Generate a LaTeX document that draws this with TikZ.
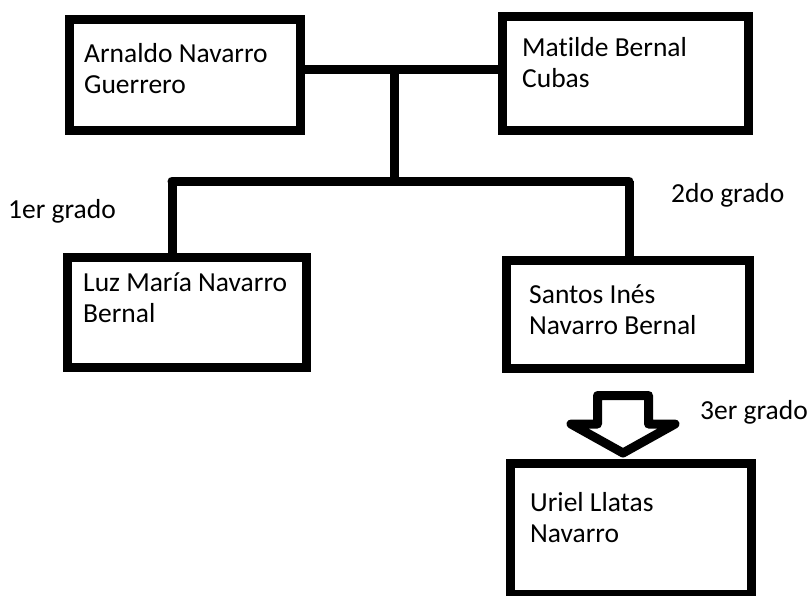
\documentclass[tikz,border=0pt]{standalone}
\usepackage{fontspec}
\setmainfont{Carlito}[Ligatures=NoCommon]
\begin{document}
\begin{tikzpicture}[x=1pt,y=-1pt,
  box/.style={draw=black,line width=9pt,rectangle,inner sep=0pt},
  txt/.style={anchor=base west,inner sep=0pt,align=left,text=black,
    font=\fontsize{27.5}{31}\selectfont},
  link/.style={draw=black,line width=9pt}]
\useasboundingbox (0,0) rectangle (809,595);
% boxes
\node[box,minimum width=231pt,minimum height=111pt] (A) at (185,75) {};
\node[box,minimum width=246pt,minimum height=114pt] (M) at (625.5,73.5) {};
\node[box,minimum width=239pt,minimum height=110pt] (L) at (187,312.5) {};
\node[box,minimum width=243pt,minimum height=108pt] (S) at (628,314.5) {};
\node[box,minimum width=241pt,minimum height=131pt] (U) at (631,529) {};
% texts (base anchor = baseline of the last line)
\node[txt] (tA) at (84,93) {Arnaldo Navarro\\Guerrero};
\node[txt] (tM) at (522,87) {Matilde Bernal\\Cubas};
\node[txt] (tL) at (83,322) {Luz María Navarro\\Bernal};
\node[txt] (tS) at (529,334) {Santos Inés\\Navarro Bernal};
\node[txt] (tU) at (530,542) {Uriel Llatas\\Navarro};
\node[txt] (g1) at (8,218) {1er grado};
\node[txt] (g2) at (671,202) {2do grado};
\node[txt] (g3) at (700,419) {3er grado};
% connectors
\coordinate (J) at (394,69.5);
\coordinate (K) at (394,181);
\coordinate (B1) at (172,181);
\coordinate (B2) at (629,181);
\draw[link] (A.east |- J) -- (M.west |- J);
\draw[link] (J) -- (K);
\draw[link,line cap=round] (B1) -- (B2);
\draw[link] (B1) -- (B1 |- L.north);
\draw[link] (B2) -- (B2 |- S.north);
% block arrow from S to U
\coordinate (tip) at (623,453);
\draw[link,line join=round]
  (597.5,395.5) -- (648.5,395.5) -- (648.5,424) -- (675,424) -- (tip)
  -- (571,424) -- (597.5,424) -- cycle;
\end{tikzpicture}
\end{document}
